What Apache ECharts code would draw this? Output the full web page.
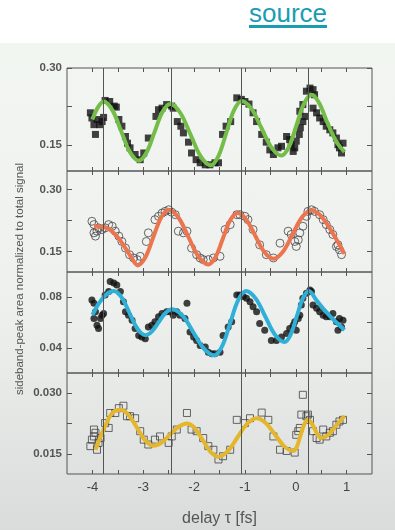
<!DOCTYPE html>
<html><head><meta charset="utf-8">
<script src="https://cdn.jsdelivr.net/npm/echarts@6/dist/echarts.min.js"></script>
<style>
html,body{margin:0;padding:0;width:395px;height:530px;overflow:hidden;background:#fff;}
#bg{position:absolute;left:0;top:43px;width:395px;height:487px;background:linear-gradient(180deg,#f2f6f1 0%,#eef0ee 55%,#d9dcda 100%);}
#src{position:absolute;left:249px;top:-2px;font-family:'Liberation Sans',Arial,sans-serif;font-size:26px;color:#1a9db2;text-decoration:underline;text-decoration-thickness:3px;text-underline-offset:3px;}
#chart{position:absolute;left:0;top:0;width:395px;height:530px;}
</style></head>
<body>
<div id="bg"></div>
<div id="src">source</div>
<div id="chart"></div>
<script>
// ---- data ----
const xTickLabels = [-4, -3, -2, -1, 0, 1];
const xMinorTicks = [-4, -3.5, -3, -2.5, -2, -1.5, -1, -0.5, 0, 0.5, 1];
const phaseLines = [-3.78, -2.45, -1.07, 0.24];
const yRanges = [[0.10, 0.30], [0.10, 0.345], [0.02, 0.10], [0.010, 0.035]];
const yTickValues = [[0.15, 0.225, 0.30], [0.15, 0.225, 0.30], [0.04, 0.06, 0.08], [0.015, 0.0225, 0.030]];
const yTickLabels = [[0.15, 0.30], [0.15, 0.30], [0.04, 0.08], [0.015, 0.030]];
const yLabelDecimals = [2, 2, 2, 3];

const panel1Points = [[-4.04,0.213],[-4.01,0.203],[-3.97,0.190],[-3.94,0.171],[-3.91,0.200],[-3.86,0.190],[-3.81,0.196],[-3.78,0.204],[-3.75,0.237],[-3.66,0.235],[-3.57,0.226],[-3.53,0.224],[-3.48,0.200],[-3.42,0.187],[-3.35,0.167],[-3.31,0.154],[-3.26,0.145],[-3.16,0.132],[-3.06,0.122],[-2.99,0.135],[-2.90,0.164],[-2.75,0.206],[-2.70,0.219],[-2.63,0.222],[-2.54,0.229],[-2.44,0.226],[-2.41,0.222],[-2.33,0.196],[-2.26,0.187],[-2.21,0.174],[-2.11,0.156],[-2.05,0.135],[-1.96,0.122],[-1.88,0.116],[-1.78,0.112],[-1.69,0.112],[-1.59,0.116],[-1.52,0.116],[-1.44,0.171],[-1.37,0.187],[-1.28,0.196],[-1.16,0.242],[-1.07,0.239],[-1.00,0.235],[-0.92,0.230],[-0.84,0.213],[-0.77,0.196],[-0.67,0.171],[-0.58,0.156],[-0.51,0.141],[-0.44,0.132],[-0.35,0.145],[-0.28,0.148],[-0.18,0.167],[-0.12,0.161],[-0.09,0.151],[-0.05,0.138],[-0.02,0.145],[0.01,0.158],[0.07,0.171],[0.09,0.184],[0.14,0.196],[0.18,0.206],[0.08,0.216],[0.14,0.229],[0.21,0.255],[0.28,0.261],[0.34,0.258],[0.37,0.248],[0.34,0.222],[0.41,0.213],[0.47,0.203],[0.54,0.196],[0.60,0.187],[0.67,0.180],[0.73,0.174],[0.80,0.164],[0.83,0.151],[0.86,0.145],[0.90,0.135],[0.93,0.154]];
const panel1Fit = [[-4.0,0.200],[-3.89,0.224],[-3.78,0.235],[-3.6075,0.2182],[-3.435,0.1775],[-3.2625,0.1368],[-3.09,0.120],[-2.935,0.1361],[-2.78,0.175],[-2.625,0.2139],[-2.47,0.230],[-2.27,0.2126],[-2.07,0.1705],[-1.87,0.1284],[-1.67,0.111],[-1.519,0.1293],[-1.3675,0.1735],[-1.216,0.2177],[-1.065,0.236],[-0.869,0.2205],[-0.6725,0.183],[-0.476,0.1455],[-0.28,0.130],[-0.1325,0.1473],[0.015,0.189],[0.1625,0.2307],[0.31,0.248],[0.46,0.232],[0.63,0.192],[0.80,0.157],[0.96,0.137]];

const panel2Points = [[-4.01,0.223],[-3.97,0.215],[-3.97,0.195],[-3.94,0.187],[-3.91,0.199],[-3.88,0.207],[-3.81,0.203],[-3.75,0.207],[-3.68,0.215],[-3.61,0.211],[-3.55,0.199],[-3.48,0.187],[-3.42,0.174],[-3.35,0.158],[-3.27,0.142],[-3.19,0.134],[-3.12,0.130],[-3.06,0.138],[-2.94,0.174],[-2.90,0.195],[-2.77,0.227],[-2.70,0.235],[-2.63,0.243],[-2.57,0.247],[-2.50,0.251],[-2.44,0.245],[-2.37,0.239],[-2.31,0.199],[-2.21,0.195],[-2.14,0.199],[-2.05,0.158],[-1.95,0.142],[-1.88,0.134],[-1.82,0.130],[-1.72,0.130],[-1.62,0.134],[-1.49,0.138],[-1.39,0.203],[-1.29,0.215],[-1.16,0.239],[-1.10,0.239],[-1.00,0.235],[-0.94,0.227],[-0.84,0.203],[-0.71,0.166],[-0.58,0.142],[-0.44,0.134],[-0.31,0.170],[-0.15,0.199],[-0.09,0.191],[-0.02,0.174],[0.01,0.162],[0.05,0.178],[0.08,0.195],[0.14,0.211],[0.21,0.235],[0.24,0.247],[0.31,0.251],[0.37,0.247],[0.47,0.239],[0.54,0.227],[0.60,0.215],[0.67,0.203],[0.73,0.191],[0.80,0.162],[0.83,0.166],[0.86,0.154],[0.90,0.142]];
const panel2Fit = [[-3.97,0.211],[-3.85,0.210],[-3.72,0.207],[-3.60,0.197],[-3.45,0.176],[-3.29,0.146],[-3.19,0.126],[-3.11,0.116],[-2.9575,0.1358],[-2.805,0.1835],[-2.6525,0.2312],[-2.50,0.251],[-2.305,0.2315],[-2.11,0.1845],[-1.915,0.1375],[-1.72,0.118],[-1.5775,0.1363],[-1.435,0.1805],[-1.2925,0.2247],[-1.15,0.243],[-0.9725,0.2267],[-0.795,0.1875],[-0.6175,0.1483],[-0.44,0.132],[-0.2525,0.1493],[-0.065,0.191],[0.1225,0.2327],[0.31,0.250],[0.46,0.240],[0.60,0.219],[0.78,0.183],[0.96,0.144]];

const panel3Points = [[-4.01,0.0778],[-3.97,0.0752],[-3.94,0.0685],[-3.97,0.0632],[-3.91,0.0578],[-3.88,0.0552],[-3.84,0.0632],[-3.81,0.0658],[-3.78,0.0672],[-3.75,0.0818],[-3.68,0.0845],[-3.65,0.0925],[-3.58,0.0912],[-3.52,0.0898],[-3.45,0.0845],[-3.39,0.0765],[-3.35,0.0685],[-3.29,0.0658],[-3.22,0.0618],[-3.16,0.0552],[-3.09,0.0498],[-3.03,0.0485],[-2.96,0.0472],[-2.90,0.0565],[-2.83,0.0578],[-2.77,0.0605],[-2.70,0.0645],[-2.63,0.0672],[-2.54,0.0685],[-2.47,0.0685],[-2.41,0.0658],[-2.34,0.0685],[-2.28,0.0658],[-2.18,0.0632],[-2.14,0.0752],[-2.08,0.0525],[-2.01,0.0485],[-1.95,0.0458],[-1.88,0.0418],[-1.78,0.0405],[-1.72,0.0365],[-1.65,0.0352],[-1.59,0.0352],[-1.49,0.0365],[-1.43,0.0498],[-1.33,0.0565],[-1.26,0.0605],[-1.16,0.0818],[-1.10,0.0818],[-1.03,0.0805],[-0.97,0.0792],[-0.90,0.0765],[-0.84,0.0725],[-0.77,0.0685],[-0.71,0.0592],[-0.61,0.0538],[-0.48,0.0458],[-0.38,0.0458],[-0.28,0.0485],[-0.18,0.0512],[-0.12,0.0552],[-0.05,0.0578],[-0.02,0.0605],[0.01,0.0538],[0.05,0.0632],[0.08,0.0658],[0.11,0.0738],[0.14,0.0792],[0.21,0.0832],[0.28,0.0858],[0.31,0.0845],[0.34,0.0738],[0.41,0.0712],[0.47,0.0685],[0.54,0.0658],[0.60,0.0645],[0.67,0.0645],[0.73,0.0672],[0.80,0.0605],[0.86,0.0632],[0.93,0.0618],[0.90,0.0565],[0.83,0.0538]];
const panel3Fit = [[-4.0,0.066],[-3.86,0.076],[-3.72,0.0825],[-3.58,0.085],[-3.425,0.0799],[-3.27,0.0675],[-3.115,0.0551],[-2.96,0.050],[-2.8275,0.0530],[-2.695,0.0603],[-2.5625,0.0675],[-2.43,0.0705],[-2.2225,0.0652],[-2.015,0.0523],[-1.8075,0.0393],[-1.60,0.034],[-1.445,0.0415],[-1.29,0.0595],[-1.135,0.0775],[-0.98,0.085],[-0.79,0.0791],[-0.60,0.0648],[-0.41,0.0504],[-0.22,0.0445],[-0.10,0.0504],[0.02,0.0648],[0.14,0.0791],[0.26,0.085],[0.40,0.078],[0.54,0.071],[0.75,0.062],[0.96,0.054]];

const panel4Points = [[-4.04,0.0169],[-4.01,0.0185],[-3.97,0.0210],[-3.94,0.0202],[-3.97,0.0193],[-3.91,0.0160],[-3.88,0.0177],[-3.84,0.0189],[-3.75,0.0226],[-3.68,0.0214],[-3.65,0.0251],[-3.55,0.0251],[-3.48,0.0263],[-3.39,0.0269],[-3.32,0.0243],[-3.26,0.0243],[-3.16,0.0238],[-3.06,0.0206],[-2.99,0.0185],[-2.90,0.0173],[-2.77,0.0185],[-2.67,0.0193],[-2.50,0.0177],[-2.44,0.0193],[-2.34,0.0210],[-2.14,0.0251],[-2.05,0.0210],[-1.95,0.0206],[-1.82,0.0189],[-1.72,0.0169],[-1.62,0.0160],[-1.52,0.0136],[-1.43,0.0144],[-1.29,0.0160],[-1.16,0.0234],[-1.00,0.0226],[-0.90,0.0238],[-0.67,0.0252],[-0.54,0.0234],[-0.44,0.0193],[-0.31,0.0160],[-0.18,0.0157],[-0.02,0.0153],[0.01,0.0197],[0.05,0.0206],[0.08,0.0214],[0.11,0.0247],[0.14,0.0296],[0.21,0.0243],[0.24,0.0247],[0.28,0.0234],[0.34,0.0206],[0.41,0.0189],[0.47,0.0185],[0.54,0.0210],[0.60,0.0193],[0.67,0.0202],[0.73,0.0206],[0.80,0.0222],[0.86,0.0230],[0.93,0.0234]];
const panel4Fit = [[-3.94,0.0160],[-3.78,0.0210],[-3.61,0.0251],[-3.45,0.0259],[-3.2875,0.0246],[-3.125,0.0215],[-2.9625,0.0183],[-2.80,0.0170],[-2.635,0.0178],[-2.47,0.0198],[-2.305,0.0217],[-2.14,0.0225],[-1.985,0.0213],[-1.83,0.0184],[-1.675,0.0155],[-1.52,0.0143],[-1.3325,0.0157],[-1.145,0.0191],[-0.9575,0.0224],[-0.77,0.0238],[-0.59,0.0226],[-0.41,0.0198],[-0.23,0.0169],[-0.05,0.0157],[0.0225,0.0168],[0.095,0.0196],[0.1675,0.0223],[0.24,0.0234],[0.305,0.0227],[0.37,0.0212],[0.435,0.0196],[0.50,0.0189],[0.62,0.0195],[0.73,0.0210],[0.85,0.0228],[0.96,0.0243]];

// ---- chart ----
const allPoints = [panel1Points, panel2Points, panel3Points, panel4Points];
const allFits = [panel1Fit, panel2Fit, panel3Fit, panel4Fit];
const fitColors = ['#74bd48', '#ec7550', '#2fb0d8', '#e3b62c'];
const markerStyles = [
  {symbol: 'rect', size: 7, itemStyle: {color: '#111'}},
  {symbol: 'circle', size: 8, itemStyle: {color: 'rgba(0,0,0,0)', borderColor: '#444', borderWidth: 1}},
  {symbol: 'circle', size: 7, itemStyle: {color: '#111'}},
  {symbol: 'rect', size: 7, itemStyle: {color: 'rgba(0,0,0,0)', borderColor: '#444', borderWidth: 1}}
];
const gridTops = [68, 171, 272, 373];
const gridHeights = [103, 101, 101, 101];
const axisColor = '#555';
const font = "'Liberation Sans', Arial, sans-serif";

const grids = [], xAxes = [], yAxes = [], series = [];
for (let i = 0; i < 4; i++) {
  grids.push({left: 67, width: 305, top: gridTops[i], height: gridHeights[i], show: true,
    borderColor: axisColor, borderWidth: 1, backgroundColor: 'transparent'});
  const isLast = i === 3;
  const tick = (vals, len) => ({show: true, inside: true, length: len, customValues: vals, lineStyle: {color: axisColor}});
  xAxes.push({gridIndex: i, type: 'value', min: -4.5, max: 1.5, position: 'bottom',
    axisLine: {show: false, onZero: false}, splitLine: {show: false},
    axisTick: tick(xMinorTicks, 4),
    axisLabel: {show: isLast, customValues: xTickLabels, color: '#444', fontSize: 13, fontFamily: font, margin: 7,
      formatter: v => String(v)},
    name: isLast ? 'delay τ [fs]' : '', nameLocation: 'middle', nameGap: 37,
    nameTextStyle: {color: '#555', fontSize: 16, fontFamily: font}});
  xAxes.push({gridIndex: i, type: 'value', min: -4.5, max: 1.5, position: 'top',
    axisLine: {show: false, onZero: false}, splitLine: {show: false}, axisLabel: {show: false},
    axisTick: tick(xMinorTicks, 4)});
  const dec = yLabelDecimals[i];
  yAxes.push({gridIndex: i, type: 'value', min: yRanges[i][0], max: yRanges[i][1], position: 'left',
    axisLine: {show: false, onZero: false}, splitLine: {show: false},
    axisTick: tick(yTickValues[i], 5),
    axisLabel: {show: true, customValues: yTickLabels[i], color: '#555', fontSize: 11.5, fontWeight: 'bold',
      fontFamily: font, margin: 5, formatter: v => v.toFixed(dec)}});
  yAxes.push({gridIndex: i, type: 'value', min: yRanges[i][0], max: yRanges[i][1], position: 'right',
    axisLine: {show: false, onZero: false}, splitLine: {show: false}, axisLabel: {show: false},
    axisTick: tick(yTickValues[i], 5)});
  const m = markerStyles[i];
  series.push({type: 'scatter', xAxisIndex: 2 * i, yAxisIndex: 2 * i, data: allPoints[i],
    symbol: m.symbol, symbolSize: m.size, itemStyle: m.itemStyle, z: 2, silent: true,
    markLine: {silent: true, symbol: ['none', 'none'], label: {show: false},
      lineStyle: {color: axisColor, width: 1, type: 'solid'},
      data: phaseLines.map(x => ({xAxis: x}))}});
  series.push({type: 'line', xAxisIndex: 2 * i, yAxisIndex: 2 * i, data: allFits[i],
    smooth: 0.35, showSymbol: false, z: 3, silent: true,
    lineStyle: {color: fitColors[i], width: 4}});
}

const chart = echarts.init(document.getElementById('chart'), null, {renderer: 'canvas'});
chart.setOption({
  animation: false,
  backgroundColor: 'transparent',
  grid: grids, xAxis: xAxes, yAxis: yAxes, series: series,
  graphic: [{type: 'text', x: 20, y: 279, rotation: Math.PI / 2,
    style: {text: 'sideband-peak area normalized to total signal', fill: '#555', fontSize: 11.5,
      fontFamily: font, align: 'center', verticalAlign: 'middle'}}]
});
</script>
</body></html>
